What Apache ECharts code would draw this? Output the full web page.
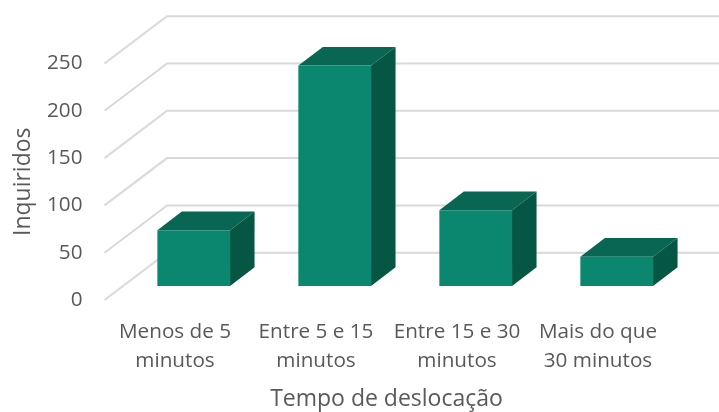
<!DOCTYPE html>
<html><head><meta charset="utf-8">
<style>html,body{margin:0;padding:0;background:#fff}#c{width:719px;height:412px}</style>
<script src="https://cdn.jsdelivr.net/npm/echarts@6/dist/echarts.min.js"></script>
</head><body><div id="c"></div>
<script>
const categories = ['Menos de 5\nminutos','Entre 5 e 15\nminutos','Entre 15 e 30\nminutos','Mais do que\n30 minutos'];
const respondents = [59, 233, 80, 31];
const gridTicks = [0, 50, 100, 150, 200, 250];
const xTitle = 'Tempo de deslocação';
const yTitle = 'Inquiridos';

const wallDX = 62.5, wallDY = 47.3;
const floorDX = 18.7, floorDY = 14;
const depthDX = 24.5, depthDY = 18.7;
const barW = 72.7;
const font = '"Open Sans"';
const textColor = '#595959';

const chart = echarts.init(document.getElementById('c'), null, {renderer:'canvas'});
chart.setOption({
  animation:false,
  backgroundColor:'#fff',
  grid:{left:104.5,top:63.5,width:564,height:236.5,outerBoundsMode:'none'},
  xAxis:{type:'category',data:categories,
    axisLine:{show:false},axisTick:{show:false},
    axisLabel:{color:textColor,fontFamily:font,fontSize:20.7,lineHeight:29,margin:18,interval:0},
    name:xTitle,nameLocation:'middle',nameGap:88,
    nameTextStyle:{color:textColor,fontFamily:font,fontSize:23}},
  yAxis:{type:'value',min:0,max:250,interval:50,
    axisLine:{show:false},axisTick:{show:false},splitLine:{show:false},
    axisLabel:{color:textColor,fontFamily:font,fontSize:20.7,margin:22,padding:[7,0,0,0]},
    name:yTitle,nameLocation:'middle',nameGap:70,
    nameTextStyle:{color:textColor,fontFamily:font,fontSize:23}},
  series:[
    {type:'custom',silent:true,clip:false,z:1,
     data:gridTicks.map(t=>[0,t]),
     renderItem:(params,api)=>{
       const y=api.coord([0,api.value(1)])[1];
       const x0=params.coordSys.x;
       return {type:'polyline',
         shape:{points:[[x0,y],[x0+wallDX,y-wallDY],[719,y-wallDY]]},
         style:{stroke:'#d9d9d9',lineWidth:2,fill:null}};
     }},
    {type:'custom',silent:true,clip:false,z:2,
     data:respondents.map((v,i)=>[i,v]),
     renderItem:(params,api)=>{
       const top=api.coord([api.value(0),api.value(1)]);
       const base=api.coord([api.value(0),0]);
       const l=top[0]+floorDX-barW/2, r=l+barW;
       const t=top[1]-floorDY, b=base[1]-floorDY;
       const poly=(pts,fill)=>({type:'polygon',shape:{points:pts},style:{fill:fill}});
       return {type:'group',children:[
         poly([[l,t],[r,t],[r+depthDX,t-depthDY],[l+depthDX,t-depthDY]],'#096653'),
         poly([[r,t],[r+depthDX,t-depthDY],[r+depthDX,b-depthDY],[r,b]],'#055642'),
         poly([[l,t],[r,t],[r,b],[l,b]],'#0b8770')
       ]};
     }}
  ]
});
</script></body></html>
